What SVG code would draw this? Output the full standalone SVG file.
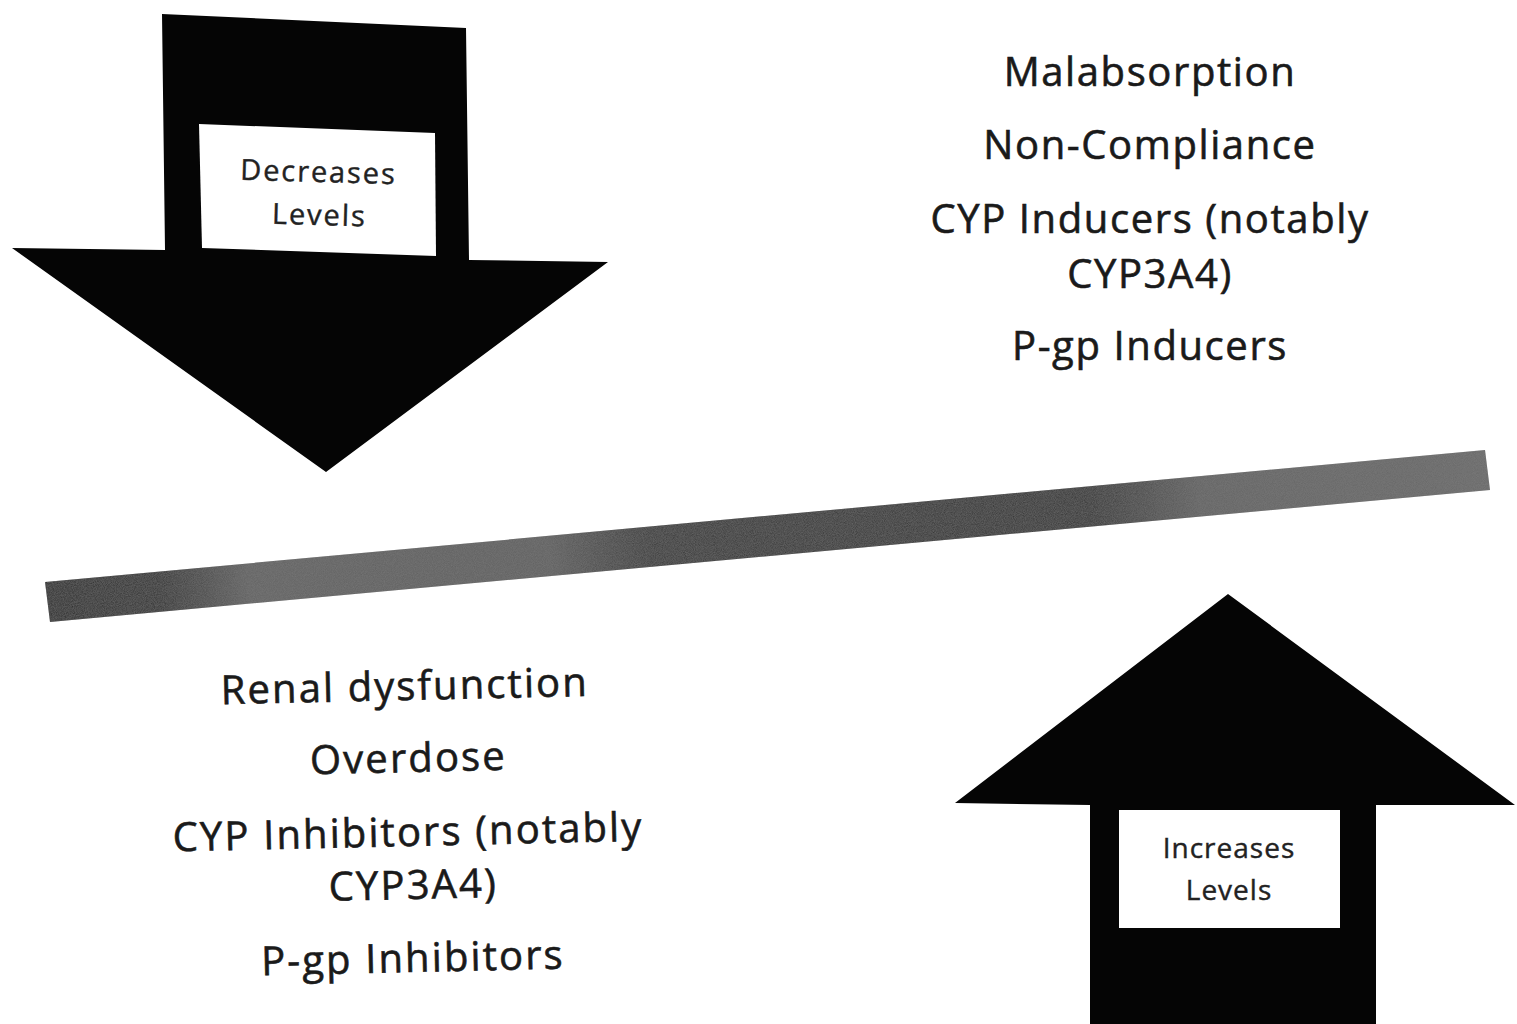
<svg xmlns="http://www.w3.org/2000/svg" width="1517" height="1024" viewBox="0 0 1517 1024">
  <style>
    .big { font-family: "Open Sans", "Noto Sans", sans-serif; font-size: 40px; letter-spacing: 1.6px; fill: #1a1a1a; stroke: #1a1a1a; stroke-width: 0.6px; text-anchor: middle; }
    .wide { letter-spacing: 2.1px; }
    .box { font-family: "Open Sans", "Noto Sans", sans-serif; font-size: 29px; fill: #222; stroke: #222; stroke-width: 0.4px; text-anchor: middle; }
    .arrow { fill: #050505; }
    .label { fill: #ffffff; }
  </style>
  <defs>
    <linearGradient id="barGrad" gradientUnits="userSpaceOnUse" x1="45" y1="600" x2="1490" y2="470">
      <stop offset="0" stop-color="#2a2a2a"/>
      <stop offset="0.08" stop-color="#333"/>
      <stop offset="0.14" stop-color="#636363"/>
      <stop offset="0.35" stop-color="#606060"/>
      <stop offset="0.42" stop-color="#3a3a3a"/>
      <stop offset="0.72" stop-color="#343434"/>
      <stop offset="0.8" stop-color="#646464"/>
      <stop offset="1" stop-color="#6a6a6a"/>
    </linearGradient>
    <filter id="grain" x="0" y="0" width="1" height="1">
      <feTurbulence type="fractalNoise" baseFrequency="1.1" numOctaves="2" seed="3" result="n"/>
      <feColorMatrix in="n" type="matrix" values="0 0 0 0 0.25  0 0 0 0 0.25  0 0 0 0 0.25  0 0 0 0.45 0" result="g"/>
      <feComposite in="g" in2="SourceGraphic" operator="in" result="gm"/>
      <feMerge><feMergeNode in="SourceGraphic"/><feMergeNode in="gm"/></feMerge>
    </filter>
  </defs>
  <rect width="1517" height="1024" fill="#ffffff"/>

  <g id="decrease-arrow">
    <polygon class="arrow" points="162,14 466,28 469,260 608,262 326,472 12,248 165,250"/>
    <polygon class="label" points="199,124 435,133 436,256 202,248"/>
    <g transform="rotate(1.6 318 190)">
      <text class="box" x="318" y="182" style="letter-spacing:1.9px">Decreases</text>
      <text class="box" x="320" y="225" style="letter-spacing:1.9px">Levels</text>
    </g>
  </g>

  <g id="increase-arrow">
    <polygon class="arrow" points="1228,594 1515,805 1376,805 1376,1024 1090,1024 1090,805 955,803"/>
    <rect class="label" x="1119" y="810" width="221" height="118"/>
    <text class="box" x="1229" y="858" style="font-size:28px;letter-spacing:1px">Increases</text>
    <text class="box" x="1229" y="900" style="font-size:28px;letter-spacing:1px">Levels</text>
  </g>

  <g id="balance-bar">
    <polygon points="45,582 1485,450 1490,490 50,622" fill="url(#barGrad)" filter="url(#grain)"/>
  </g>

  <g id="decrease-factors">
    <text class="big" x="1150" y="86">Malabsorption</text>
    <text class="big" x="1150" y="159">Non-Compliance</text>
    <text class="big" x="1150" y="233">CYP Inducers (notably</text>
    <text class="big" x="1150" y="288">CYP3A4)</text>
    <text class="big" x="1150" y="360">P-gp Inducers</text>
  </g>

  <g id="increase-factors" transform="rotate(-1.3 408 830)">
    <text class="big wide" x="408" y="700">Renal dysfunction</text>
    <text class="big wide" x="410" y="772">Overdose</text>
    <text class="big wide" x="408" y="846">CYP Inhibitors (notably</text>
    <text class="big wide" x="412" y="899">CYP3A4)</text>
    <text class="big wide" x="410" y="972">P-gp Inhibitors</text>
  </g>
</svg>
